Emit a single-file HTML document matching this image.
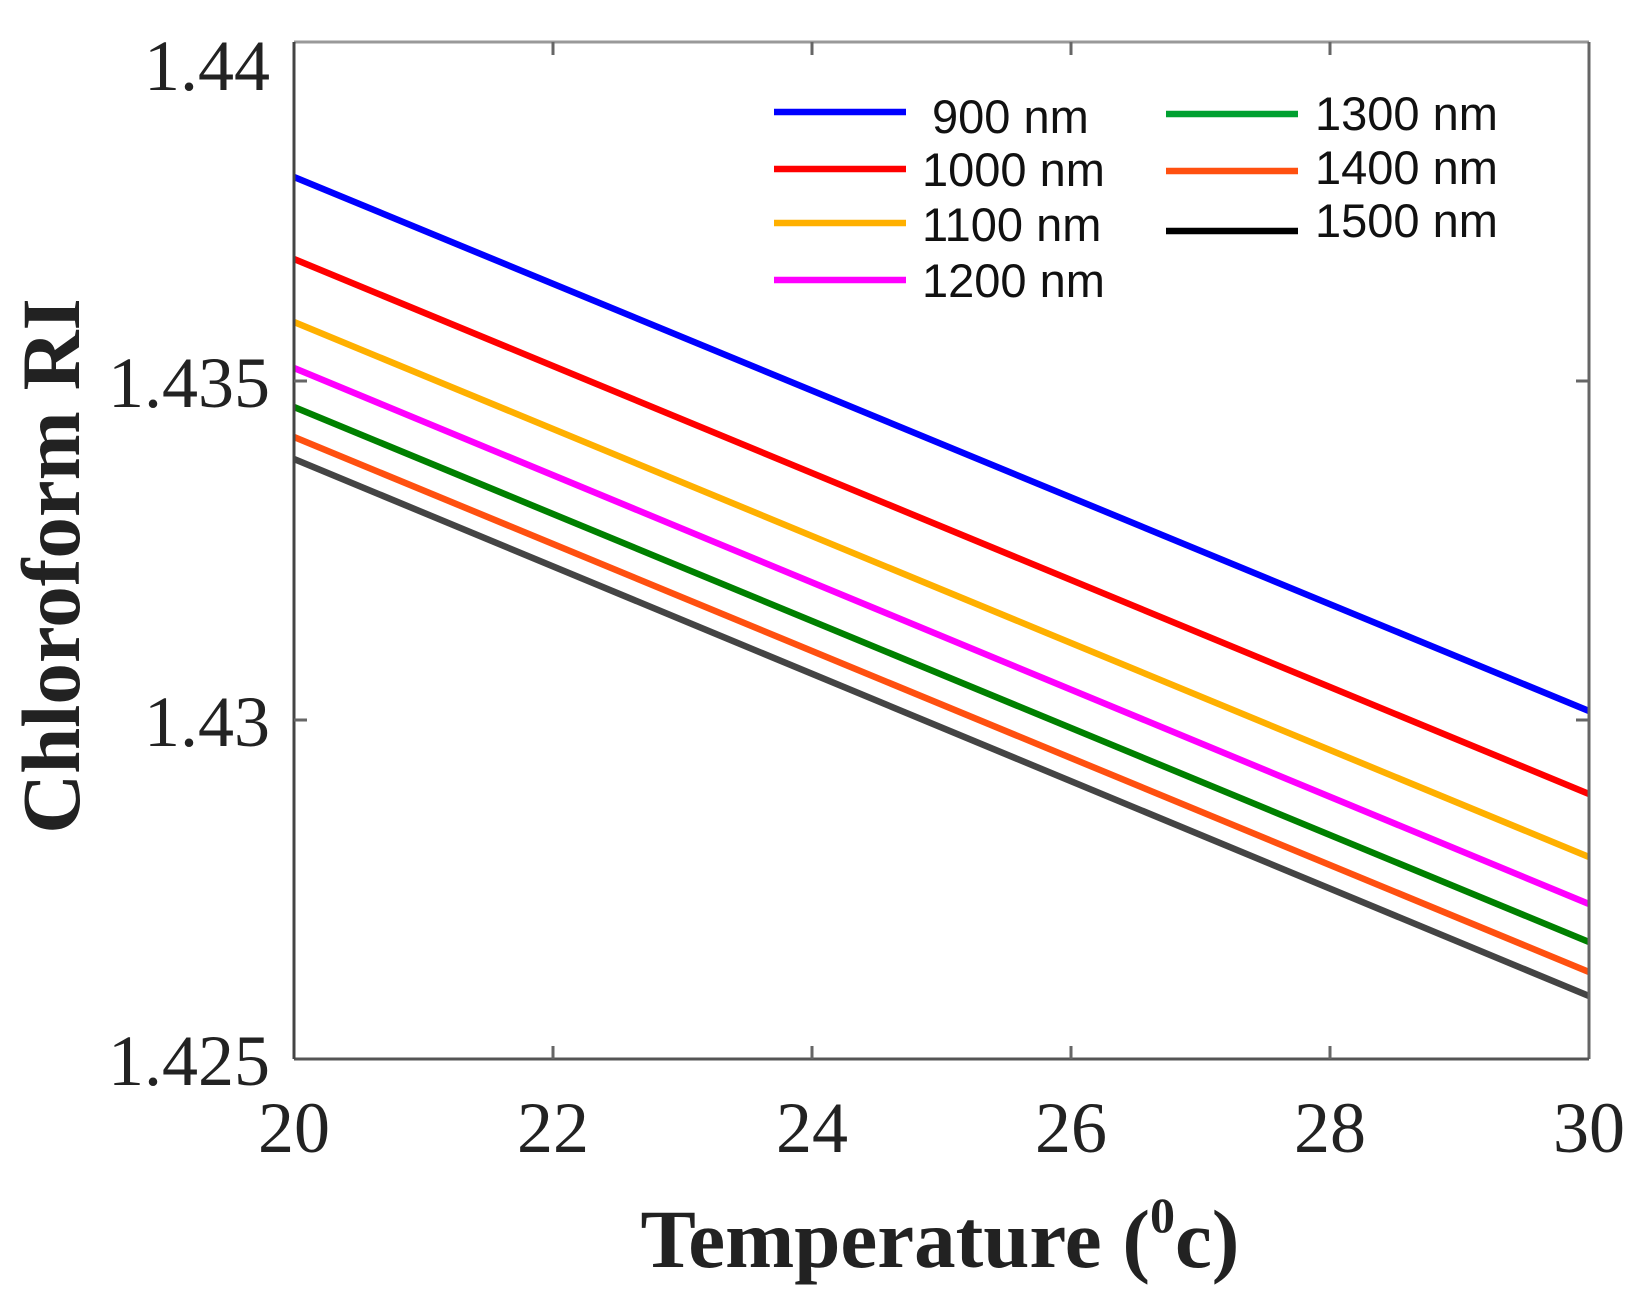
<!DOCTYPE html>
<html><head><meta charset="utf-8"><style>html,body{margin:0;padding:0;background:#fff;}svg{display:block;}</style></head>
<body>
<svg width="1635" height="1299" viewBox="0 0 1635 1299" xmlns="http://www.w3.org/2000/svg">
<rect width="1635" height="1299" fill="#fff"/>
<g stroke-width="6.5" fill="none" stroke-linecap="butt">
<line x1="294" y1="177" x2="1589" y2="711" stroke="#0000ff"/>
<line x1="294" y1="259" x2="1589" y2="794" stroke="#ff0000"/>
<line x1="294" y1="322" x2="1589" y2="857" stroke="#ffb000"/>
<line x1="294" y1="368" x2="1589" y2="904" stroke="#ff00ff"/>
<line x1="294" y1="407" x2="1589" y2="942" stroke="#008000"/>
<line x1="294" y1="437" x2="1589" y2="972" stroke="#ff5010"/>
<line x1="294" y1="459" x2="1589" y2="996" stroke="#444444"/>
</g>
<g stroke-width="3" fill="none">
<line x1="294" y1="42" x2="1589" y2="42" stroke="#999"/>
<line x1="1589" y1="42" x2="1589" y2="1059" stroke="#666"/>
<line x1="294" y1="1059" x2="1589" y2="1059" stroke="#555"/>
<line x1="294" y1="42" x2="294" y2="1059" stroke="#444"/>
</g>
<g stroke="#666" stroke-width="3">
<line x1="553" y1="1059" x2="553" y2="1046"/><line x1="812" y1="1059" x2="812" y2="1046"/>
<line x1="1071" y1="1059" x2="1071" y2="1046"/><line x1="1330" y1="1059" x2="1330" y2="1046"/>
<line x1="553" y1="42" x2="553" y2="55"/><line x1="812" y1="42" x2="812" y2="55"/>
<line x1="1071" y1="42" x2="1071" y2="55"/><line x1="1330" y1="42" x2="1330" y2="55"/>
<line x1="294" y1="381" x2="307" y2="381"/><line x1="294" y1="720" x2="307" y2="720"/>
<line x1="1589" y1="381" x2="1576" y2="381"/><line x1="1589" y1="720" x2="1576" y2="720"/>
</g>
<g font-family="Liberation Serif, serif" font-size="72" fill="#222">
<g text-anchor="end">
<text x="270" y="90">1.44</text>
<text x="270" y="407">1.435</text>
<text x="270" y="746">1.43</text>
<text x="270" y="1085">1.425</text>
</g>
<g text-anchor="middle">
<text x="294" y="1152">20</text>
<text x="553" y="1152">22</text>
<text x="812" y="1152">24</text>
<text x="1071" y="1152">26</text>
<text x="1330" y="1152">28</text>
<text x="1589" y="1152">30</text>
</g>
</g>
<text x="940" y="1267" text-anchor="middle" font-family="Liberation Serif, serif" font-weight="bold" font-size="83" fill="#222">Temperature (<tspan font-size="50" dy="-35">0</tspan><tspan dy="35">c)</tspan></text>
<text transform="translate(79,566) rotate(-90)" text-anchor="middle" font-family="Liberation Serif, serif" font-weight="bold" font-size="83" fill="#222">Chloroform RI</text>
<g stroke-width="6.5">
<line x1="774" y1="112" x2="906" y2="112" stroke="#0000ff"/>
<line x1="774" y1="169" x2="906" y2="169" stroke="#ff0000"/>
<line x1="774" y1="223" x2="906" y2="223" stroke="#ffb000"/>
<line x1="774" y1="280" x2="906" y2="280" stroke="#ff00ff"/>
<line x1="1166" y1="114" x2="1298" y2="114" stroke="#00a030"/>
<line x1="1166" y1="171" x2="1298" y2="171" stroke="#ff5010"/>
<line x1="1166" y1="231" x2="1298" y2="231" stroke="#000"/>
</g>
<g font-family="Liberation Sans, sans-serif" font-size="47" fill="#111">
<text x="932" y="133">900 nm</text>
<text x="922" y="186">1000 nm</text>
<text x="922" y="241">1100 nm</text>
<text x="922" y="297">1200 nm</text>
<text x="1315" y="130">1300 nm</text>
<text x="1315" y="184">1400 nm</text>
<text x="1315" y="237">1500 nm</text>
</g>
</svg>
</body></html>
